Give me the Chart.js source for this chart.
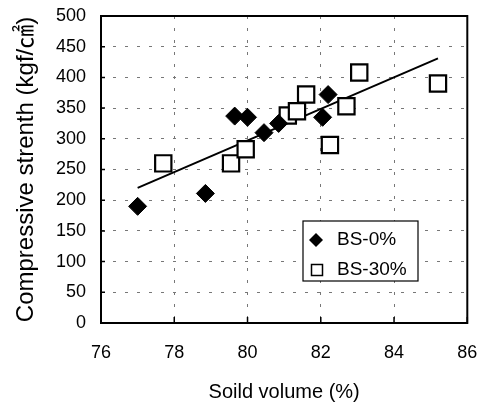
<!DOCTYPE html>
<html>
<head>
<meta charset="utf-8">
<script src="https://cdn.jsdelivr.net/npm/chart.js@4"></script>
<style>
  html, body { margin: 0; padding: 0; background: #fff; }
  #wrap { width: 481px; height: 404px; }
</style>
</head>
<body>
<div id="wrap"><canvas id="scatter" width="481" height="404"></canvas></div>
<script>
// data
const bs0X = [77.0, 78.85, 79.65, 80.0, 80.45, 80.85, 82.05, 82.2];
const bs0Y = [190, 211, 337, 335, 310, 325, 335, 372];
const bs30X = [77.7, 79.55, 79.95, 81.1, 81.35, 81.6, 82.25, 82.7, 83.05, 85.2];
const bs30Y = [260, 260, 283, 338, 345, 372, 290, 353, 408, 390];
const trendX = [77.0, 85.2];
const trendY = [220, 431];
const seriesNames = ['BS-0%', 'BS-30%'];
const xTitle = 'Soild volume (%)';
const yTitle = 'Compressive strenth (kgf/㎠)';

const toPoints = (xs, ys) => xs.map((x, i) => ({ x: x, y: ys[i] }));
const fontFamily = "'Liberation Sans', Arial, 'Noto Sans CJK KR', sans-serif";

// frame, inside tick marks and the boxed legend
const framePlugin = {
  id: 'frame',
  afterDraw(chart) {
    const ctx = chart.ctx;
    const a = chart.chartArea;
    const xs = chart.scales.x, ys = chart.scales.y;
    ctx.save();
    ctx.strokeStyle = '#000';
    ctx.lineWidth = 2;
    ctx.strokeRect(a.left, a.top, a.right - a.left, a.bottom - a.top);
    ctx.lineWidth = 1.5;
    ctx.beginPath();
    xs.ticks.forEach(t => {
      const px = xs.getPixelForValue(t.value);
      ctx.moveTo(px, a.bottom);
      ctx.lineTo(px, a.bottom - 6);
    });
    ys.ticks.forEach(t => {
      const py = ys.getPixelForValue(t.value);
      ctx.moveTo(a.left, py);
      ctx.lineTo(a.left + 4, py);
    });
    ctx.stroke();

    // legend box
    const bx = a.left + 202, by = a.top + 205, bw = 115, bh = 60;
    ctx.fillStyle = '#fff';
    ctx.fillRect(bx, by, bw, bh);
    ctx.lineWidth = 1.2;
    ctx.strokeRect(bx, by, bw, bh);
    ctx.font = '19px ' + fontFamily;
    ctx.textBaseline = 'middle';
    ctx.textAlign = 'left';
    const rows = [by + 19, by + 49];
    // diamond
    ctx.fillStyle = '#000';
    ctx.beginPath();
    ctx.moveTo(bx + 6, rows[0]);
    ctx.lineTo(bx + 13, rows[0] - 7);
    ctx.lineTo(bx + 20, rows[0]);
    ctx.lineTo(bx + 13, rows[0] + 7);
    ctx.closePath();
    ctx.fill();
    // square
    ctx.lineWidth = 1.5;
    ctx.strokeRect(bx + 8.5, rows[1] - 5.5, 11, 11);
    ctx.fillStyle = '#000';
    ctx.fillText(seriesNames[0], bx + 34, rows[0]);
    ctx.fillText(seriesNames[1], bx + 34, rows[1]);
    ctx.restore();
  }
};

new Chart(document.getElementById('scatter'), {
  type: 'scatter',
  data: {
    datasets: [
      {
        label: seriesNames[0],
        data: toPoints(bs0X, bs0Y),
        pointStyle: 'rectRot',
        pointRadius: 9,
        pointHoverRadius: 9,
        backgroundColor: '#000',
        borderColor: '#000',
        borderWidth: 1,
        order: 1
      },
      {
        label: seriesNames[1],
        data: toPoints(bs30X, bs30Y),
        pointStyle: 'rect',
        pointRadius: 11.5,
        pointHoverRadius: 11.5,
        backgroundColor: '#fff',
        borderColor: '#000',
        borderWidth: 2.2,
        order: 2
      },
      {
        label: 'trend',
        type: 'line',
        data: toPoints(trendX, trendY),
        showLine: true,
        pointRadius: 0,
        borderColor: '#000',
        borderWidth: 2,
        fill: false,
        order: 3
      }
    ]
  },
  options: {
    responsive: false,
    animation: false,
    layout: { padding: { left: 0, right: 11, top: 16, bottom: 0 } },
    plugins: {
      legend: { display: false },
      tooltip: { enabled: false }
    },
    scales: {
      x: {
        type: 'linear',
        min: 76,
        max: 86,
        ticks: {
          stepSize: 2,
          padding: 19,
          color: '#000',
          font: { family: fontFamily, size: 18 }
        },
        grid: { color: '#777', lineWidth: 1, drawTicks: false },
        border: { display: false, dash: [3, 9] },
        title: {
          display: true,
          text: xTitle,
          color: '#000',
          font: { family: fontFamily, size: 20 },
          padding: { top: 0, bottom: 0 }
        },
        afterFit(scale) {
          scale.height = 81;
          scale.paddingLeft = 0;
          scale.paddingRight = 0;
        }
      },
      y: {
        min: 0,
        max: 500,
        ticks: {
          stepSize: 50,
          padding: 15,
          color: '#000',
          font: { family: fontFamily, size: 18 }
        },
        grid: { color: '#777', lineWidth: 1, drawTicks: false },
        border: { display: false, dash: [3, 9] },
        title: {
          display: true,
          text: yTitle,
          color: '#000',
          font: { family: fontFamily, size: 24 },
          padding: { top: 12, bottom: 0 }
        },
        afterFit(scale) {
          scale.width = 101;
          scale.paddingTop = 0;
          scale.paddingBottom = 0;
        }
      }
    }
  },
  plugins: [framePlugin]
});
</script>
</body>
</html>
